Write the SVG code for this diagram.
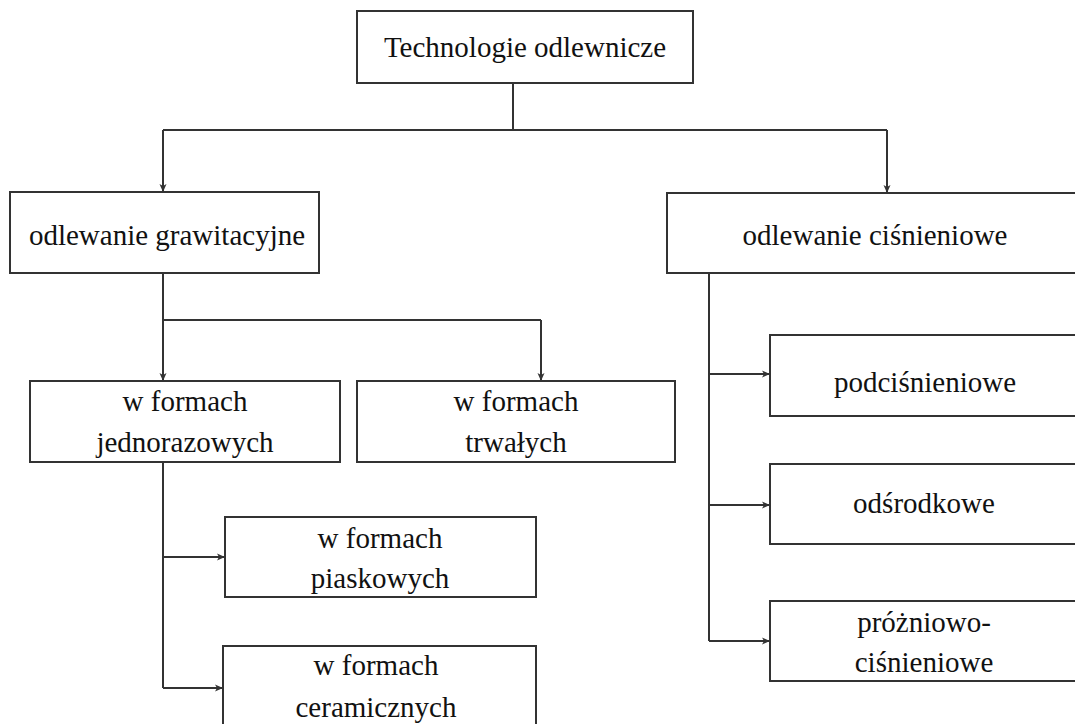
<svg xmlns="http://www.w3.org/2000/svg" width="1075" height="724" viewBox="0 0 1075 724">
<defs>
<style>
.box{fill:#fff;stroke:#333;stroke-width:2}
.t{font-family:'Liberation Serif','Times New Roman',Times,'DejaVu Serif',serif;font-size:29px;fill:#111;text-anchor:middle}
.c{fill:none;stroke:#333;stroke-width:2}
</style>
<marker id="ah" markerUnits="userSpaceOnUse" markerWidth="10" markerHeight="10" refX="8" refY="4" orient="auto">
<path d="M0,0.5 L8,4 L0,7.5 L2,4 Z" fill="#333"/>
</marker>
</defs>
<rect width="1075" height="724" fill="#fff"/>
<g id="connectors">
<path class="c" d="M513,83 V130 M163,130 H887"/>
<path class="c" d="M163,130 V192" marker-end="url(#ah)"/>
<path class="c" d="M887,130 V193" marker-end="url(#ah)"/>
<path class="c" d="M163,273 V320 H541"/>
<path class="c" d="M163,320 V381" marker-end="url(#ah)"/>
<path class="c" d="M541,320 V381" marker-end="url(#ah)"/>
<path class="c" d="M163,462 V688"/>
<path class="c" d="M163,557 H225" marker-end="url(#ah)"/>
<path class="c" d="M163,688 H223" marker-end="url(#ah)"/>
<path class="c" d="M709,273 V641"/>
<path class="c" d="M709,374 H770" marker-end="url(#ah)"/>
<path class="c" d="M709,505 H770" marker-end="url(#ah)"/>
<path class="c" d="M709,641 H770" marker-end="url(#ah)"/>
</g>
<g id="n-root"><rect class="box" x="357" y="11" width="336" height="72"/><text class="t" font-family="Liberation Serif, serif" x="525" y="57">Technologie odlewnicze</text></g>
<g id="n-grav"><rect class="box" x="10" y="192" width="309" height="81"/><text class="t" x="167" y="245">odlewanie grawitacyjne</text></g>
<g id="n-cis"><rect class="box" x="667" y="193" width="412" height="80"/><text class="t" x="875" y="245">odlewanie ciśnieniowe</text></g>
<g id="n-jedn"><rect class="box" x="30" y="381" width="310" height="81"/><text class="t" x="185" y="411">w formach</text><text class="t" x="185" y="452">jednorazowych</text></g>
<g id="n-trw"><rect class="box" x="357" y="381" width="318" height="81"/><text class="t" x="516" y="411">w formach</text><text class="t" x="516" y="452">trwałych</text></g>
<g id="n-piask"><rect class="box" x="225" y="517" width="311" height="80"/><text class="t" x="380" y="548">w formach</text><text class="t" x="380" y="588">piaskowych</text></g>
<g id="n-ceram"><rect class="box" x="223" y="646" width="313" height="90"/><text class="t" x="376" y="675">w formach</text><text class="t" x="376" y="717">ceramicznych</text></g>
<g id="n-podc"><rect class="box" x="770" y="335" width="309" height="81"/><text class="t" x="925" y="392">podciśnieniowe</text></g>
<g id="n-odsr"><rect class="box" x="770" y="464" width="309" height="80"/><text class="t" x="924" y="513">odśrodkowe</text></g>
<g id="n-proz"><rect class="box" x="770" y="601" width="309" height="80"/><text class="t" x="924" y="632">próżniowo-</text><text class="t" x="924" y="672">ciśnieniowe</text></g>
</svg>
